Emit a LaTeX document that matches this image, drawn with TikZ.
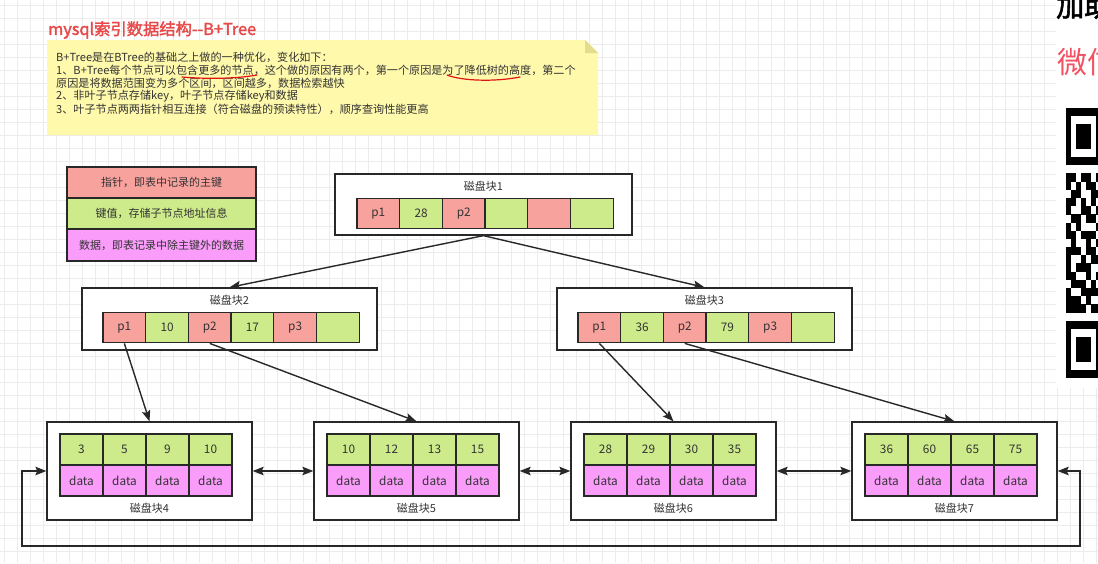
\documentclass[tikz,border=0pt]{standalone}
\usepackage{fontspec}
\setmainfont{Noto Sans CJK SC}
\newfontfamily\boldcjk[FakeBold=2]{Noto Sans CJK SC}
\usetikzlibrary{arrows.meta}
\definecolor{redc}{RGB}{248,162,158}
\definecolor{greenc}{RGB}{205,235,139}
\definecolor{pinkc}{RGB}{250,156,250}
\definecolor{linec}{RGB}{40,40,40}
\definecolor{textc}{RGB}{51,51,51}
\definecolor{notec}{RGB}{255,249,172}
\definecolor{foldc}{RGB}{226,220,140}
\definecolor{titlec}{RGB}{232,72,72}
\definecolor{wxc}{RGB}{242,82,98}
\definecolor{gridc}{RGB}{236,236,236}
\definecolor{ulinec}{RGB}{225,20,20}
\begin{document}
\begin{tikzpicture}[x=1pt,y=-1pt,
  box/.style={draw=linec,fill=white,line width=1.3pt,inner sep=0pt},
  cell/.style={draw=linec,line width=1.3pt,minimum width=42.7pt,minimum height=30.5pt,inner sep=0pt,text=textc,font=\fontsize{11.8}{13}\selectfont},
  lcell/.style={cell,minimum width=43pt,minimum height=31pt},
  lbl/.style={text=textc,inner sep=0pt,font=\fontsize{11}{13}\selectfont},
  notetxt/.style={text=textc,inner sep=0pt,anchor=west,font=\fontsize{11.1}{13}\selectfont},
  legend/.style={draw=linec,line width=1.3pt,minimum width=189pt,inner sep=0pt,text=textc,font=\fontsize{11}{13}\selectfont},
  conn/.style={draw=linec,line width=1.4pt,-{Stealth[length=11pt,width=8.5pt,inset=2pt]}},
  dbl/.style={draw=linec,line width=1.4pt,{Stealth[length=11pt,width=8.5pt,inset=2pt]}-{Stealth[length=11pt,width=8.5pt,inset=2pt]}},
  uline/.style={draw=ulinec,line width=1.2pt,line cap=round},
  qr/.style={fill=black}
]
\useasboundingbox (0,0) rectangle (1098,563);
\clip (0,0) rectangle (1098,563);
\fill[white] (0,0) rectangle (1098,563);
% background grid
\foreach \x in {4,17,...,1098} \draw[gridc,line width=0.6pt] (\x,0) -- (\x,563);
\foreach \y in {5,18,...,563} \draw[gridc,line width=0.6pt] (0,\y) -- (1098,\y);

% title
\node[anchor=west,inner sep=0pt,text=titlec,font=\boldcjk\fontsize{16.3}{18}\selectfont] (title) at (48,30) {mysql索引数据结构--B+Tree};

% note
\fill[notec] (47,40) -- (585,40) -- (598,53) -- (598,135) -- (47,135) -- cycle;
\fill[foldc] (585,40) -- (585,53) -- (598,53) -- cycle;
\node[notetxt] (n1) at (56,57) {B+Tree是在BTree的基础之上做的一种优化，变化如下：};
\node[notetxt] (n2) at (56,70) {1、B+Tree每个节点可以包含更多的节点，这个做的原因有两个，第一个原因是为了降低树的高度，第二个};
\node[notetxt] (n3) at (56,83) {原因是将数据范围变为多个区间，区间越多，数据检索越快};
\node[notetxt] (n4) at (56,96) {2、非叶子节点存储key，叶子节点存储key和数据};
\node[notetxt] (n5) at (56,109) {3、叶子节点两两指针相互连接（符合磁盘的预读特性），顺序查询性能更高};
\draw[uline] (182,77) .. controls (205,79) and (235,79) .. (257,75);
\draw[uline] (447,75) .. controls (462,81) and (495,82) .. (520,77);

% legend
\node[legend,fill=redc,minimum height=31pt] (lg1) at (161.5,182.5) {指针，即表中记录的主键};
\node[legend,fill=greenc,minimum height=31pt] (lg2) at (161.5,213.5) {键值，存储子节点地址信息};
\node[legend,fill=pinkc,minimum height=32pt] (lg3) at (161.5,245) {数据，即表记录中除主键外的数据};

% root block
\node[box,minimum width=297pt,minimum height=61pt] (root) at (483.5,204.5) {};
\node[lbl] (rootlbl) at (483.5,186) {磁盘块1};
\foreach \i/\t/\c in {1/p1/redc,2/28/greenc,3/p2/redc,4//greenc,5//redc,6//greenc}
  \node[cell,fill=\c] (r\i) at ({357+42.7*(\i-0.5)},213.5) {\t};

% block 2
\node[box,minimum width=295pt,minimum height=62pt] (b2) at (229.5,319) {};
\node[lbl] (b2lbl) at (229.5,300) {磁盘块2};
\foreach \i/\t/\c in {1/p1/redc,2/10/greenc,3/p2/redc,4/17/greenc,5/p3/redc,6//greenc}
  \node[cell,fill=\c] (b2c\i) at ({103+42.7*(\i-0.5)},327.5) {\t};

% block 3
\node[box,minimum width=295pt,minimum height=62pt] (b3) at (704.5,319) {};
\node[lbl] (b3lbl) at (704.5,300) {磁盘块3};
\foreach \i/\t/\c in {1/p1/redc,2/36/greenc,3/p2/redc,4/79/greenc,5/p3/redc,6//greenc}
  \node[cell,fill=\c] (b3c\i) at ({578+42.7*(\i-0.5)},327.5) {\t};

% leaf blocks
\foreach \n/\x/\ka/\kb/\kc/\kd in {4/47/3/5/9/10,5/314/10/12/13/15,6/571/28/29/30/35,7/852/36/60/65/75}{
  \node[box,minimum width=205pt,minimum height=98pt] (b\n) at ({\x+102.5},471) {};
  \node[lbl] (b\n lbl) at ({\x+102.5},508) {磁盘块\n};
  \foreach \i/\k in {1/\ka,2/\kb,3/\kc,4/\kd}{
    \node[lcell,fill=greenc] (b\n k\i) at ({\x+13+43*(\i-0.5)},449.5) {\k};
    \node[lcell,fill=pinkc] (b\n d\i) at ({\x+13+43*(\i-0.5)},480.5) {data};
  }
}

% tree connectors
\draw[conn] (root.south) -- (b2.north);
\draw[conn] (root.south) -- (b3.north);
\draw[conn] (b2c1.south) -- (b4.north);
\draw[conn] (b2c3.south) -- (b5.north);
\draw[conn] (b3c1.south) -- (b6.north);
\draw[conn] (b3c3.south) -- (b7.north);

% leaf links
\draw[dbl] (b4.east) -- (b5.west);
\draw[dbl] (b5.east) -- (b6.west);
\draw[dbl] (b6.east) -- (b7.west);
\coordinate (loopL) at (22,546);
\coordinate (loopR) at (1080,546);
\draw[dbl] (b4.west) -| (loopL) -- (loopR) |- (b7.east);

% right edge (cropped overlay)
\fill[white] (1056,0) rectangle (1098,388);
\node[anchor=west,inner sep=0pt,text=black,font=\boldcjk\fontsize{28}{30}\selectfont] (jia) at (1056,6) {加助};
\node[anchor=west,inner sep=0pt,text=wxc,font=\fontsize{30}{32}\selectfont] (wx) at (1057,62) {微信};
% QR code fragment
\fill[qr] (1066,108) rectangle ++(35,57.26);
\fill[white] (1071,116.18) rectangle ++(25,40.9);
\fill[qr] (1076,124.36) rectangle ++(15,24.54);
\fill[qr] (1066,320.68) rectangle ++(35,57.26);
\fill[white] (1071,328.86) rectangle ++(25,40.9);
\fill[qr] (1076,337.04) rectangle ++(15,24.54);
\foreach \r/\cs in {8/{0,1,3,4,6},9/{0,2,4,5},10/{1,2,5,6},11/{0,1,3,5},12/{0,3,4,6},13/{1,2,4,5},14/{0,2,6},15/{0,1,3,4,5},16/{1,4,6},17/{0,1,2,4,5},18/{0,3,5,6},19/{0,2,3,4},20/{0,1,4,6},21/{1,2,3,5},22/{0,3,4,5,6},23/{0,1,2,4},24/{0,1,2,3,5,6}}
  \foreach \c in \cs \fill[qr] ({1066+5*\c},{108+8.18*\r}) rectangle ++(5.2,8.4);
\end{tikzpicture}
\end{document}
